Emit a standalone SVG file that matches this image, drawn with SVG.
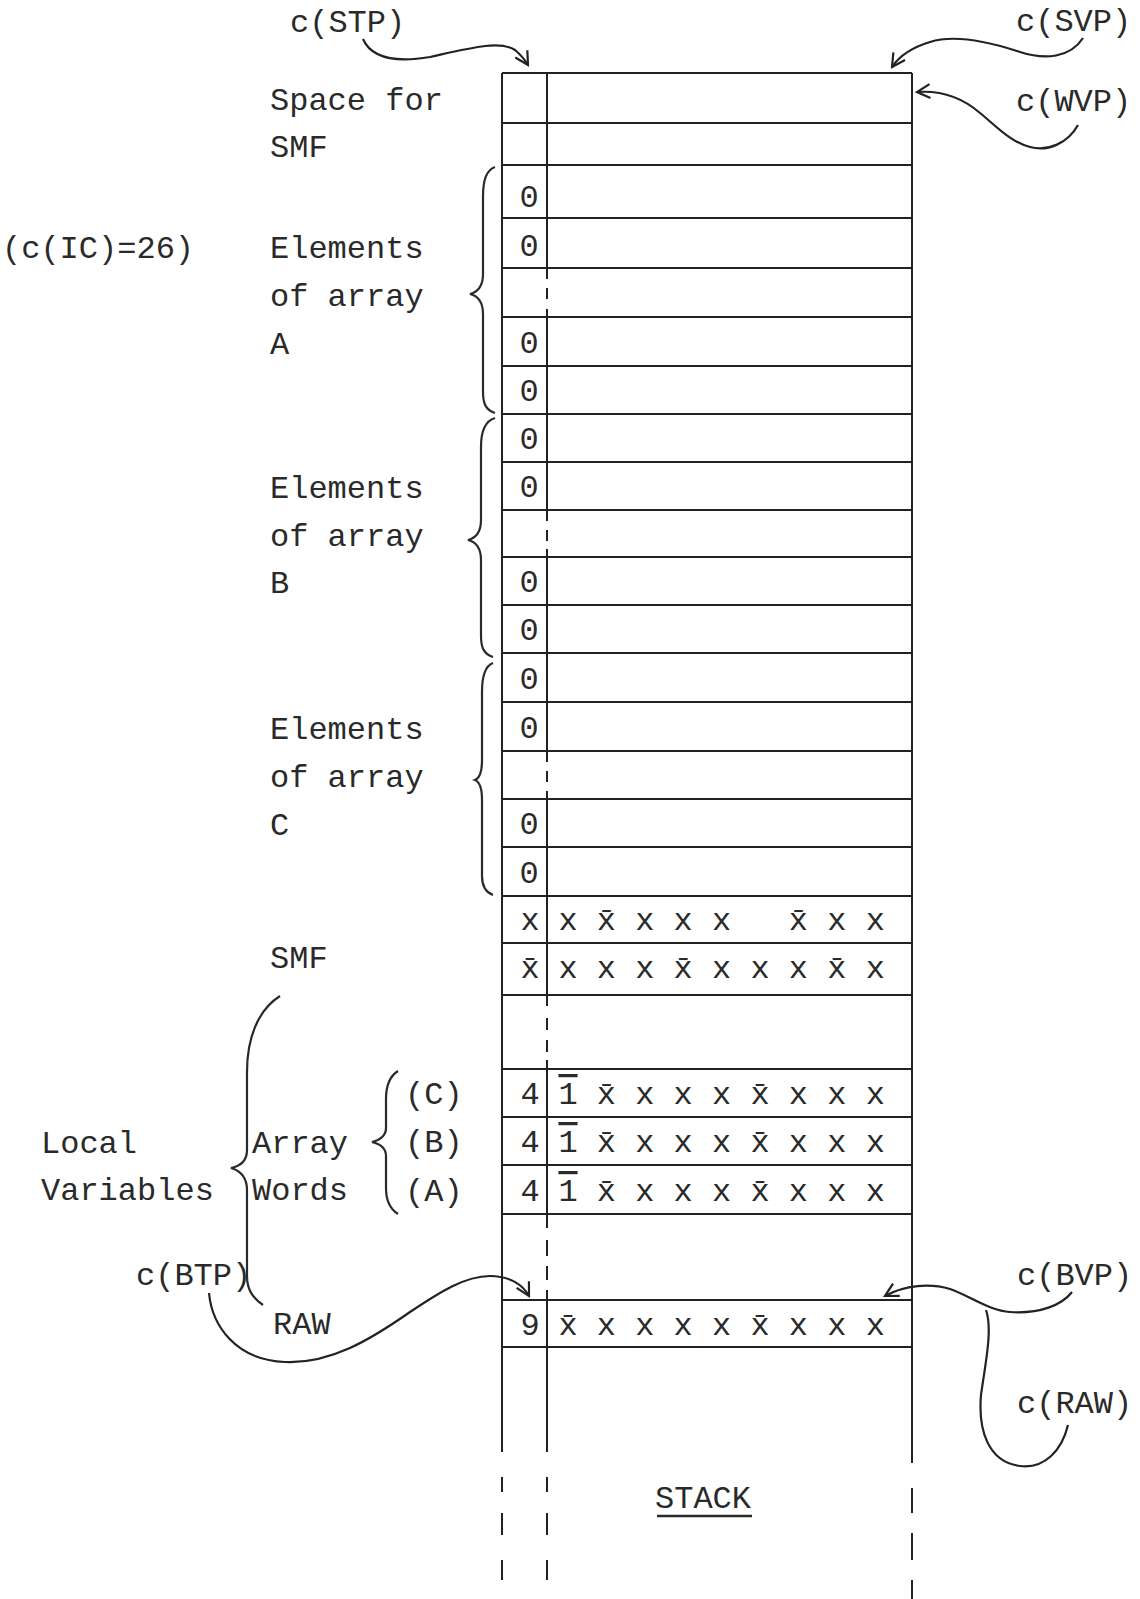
<svg xmlns="http://www.w3.org/2000/svg" width="1140" height="1599" viewBox="0 0 1140 1599">
<style>
.t{font-family:"Liberation Mono","Courier New",monospace;font-size:32px;fill:#2a2a2a}
.o{text-decoration:overline}
.m{text-anchor:middle}
.ln{stroke:#222;stroke-width:2;fill:none}
.br{stroke:#2a2a2a;stroke-width:2.2;fill:none}
.cn{stroke:#222;stroke-width:2.2;fill:none}
</style>
<defs>
<marker id="ah" viewBox="0 0 16 16" refX="14" refY="8" markerWidth="16" markerHeight="16" markerUnits="userSpaceOnUse" orient="auto">
<path d="M1,1 L14,8 L1,15" fill="none" stroke="#222" stroke-width="2.2"/>
</marker>
</defs>
<rect width="1140" height="1599" fill="#fff"/>

<g id="stack" class="ln">
<path d="M502,73V1452M502,1477V1492M502,1513V1535M502,1560V1580"/>
<path d="M547,73V279M547,288V299M547,309V521M547,530V541M547,549V762M547,771V782M547,791V1006M547,1018V1030M547,1040V1052M547,1060V1228M547,1240V1256M547,1266V1280M547,1290V1452M547,1477V1492M547,1513V1535M547,1560V1580"/>
<path d="M912,73V1463M912,1488V1513M912,1533V1560M912,1580V1599"/>
<path d="M502,73H912M502,123H912M502,165H912M502,218H912M502,268H912M502,317H912M502,366H912M502,414H912M502,462H912M502,510H912M502,557H912M502,605H912M502,653H912M502,702H912M502,751H912M502,799H912M502,847H912M502,896H912M502,943H912M502,995H912M502,1069H912M502,1117H912M502,1165H912M502,1214H912M502,1300H912M502,1347H912"/>
</g>

<g id="cells" class="t">
<text class="m" x="529" y="207">0</text>
<text class="m" x="529" y="256">0</text>
<text class="m" x="529" y="353">0</text>
<text class="m" x="529" y="401">0</text>
<text class="m" x="529" y="449">0</text>
<text class="m" x="529" y="497">0</text>
<text class="m" x="529" y="592">0</text>
<text class="m" x="529" y="640">0</text>
<text class="m" x="529" y="689">0</text>
<text class="m" x="529" y="738">0</text>
<text class="m" x="529" y="834">0</text>
<text class="m" x="529" y="883">0</text>
<text class="m" x="530" y="930">x</text>
<text class="m" x="530" y="978">x&#x304;</text>
<text class="m" x="530" y="1104">4</text>
<text class="m" x="530" y="1152">4</text>
<text class="m" x="530" y="1201">4</text>
<text class="m" x="530" y="1335">9</text>
<text x="558.4" y="930" xml:space="preserve">x x&#x304; x x x   x&#x304; x x</text>
<text x="558.4" y="978">x x x x&#x304; x x x x&#x304; x</text>
<text x="558.4" y="1104"><tspan class="o">1</tspan> x&#x304; x x x x&#x304; x x x</text>
<text x="558.4" y="1152"><tspan class="o">1</tspan> x&#x304; x x x x&#x304; x x x</text>
<text x="558.4" y="1201"><tspan class="o">1</tspan> x&#x304; x x x x&#x304; x x x</text>
<text x="558.4" y="1335">x&#x304; x x x x x&#x304; x x x</text>
</g>

<g id="labels" class="t">
<text x="290" y="32">c(STP)</text>
<text x="1016" y="31">c(SVP)</text>
<text x="1016" y="111">c(WVP)</text>
<text x="270" y="110">Space for</text>
<text x="270" y="157">SMF</text>
<text x="2" y="258">(c(IC)=26)</text>
<text x="270" y="258">Elements</text>
<text x="270" y="306">of array</text>
<text x="270" y="354">A</text>
<text x="270" y="498">Elements</text>
<text x="270" y="546">of array</text>
<text x="270" y="593">B</text>
<text x="270" y="739">Elements</text>
<text x="270" y="787">of array</text>
<text x="270" y="835">C</text>
<text x="270" y="968">SMF</text>
<text x="405" y="1104">(C)</text>
<text x="405" y="1152">(B)</text>
<text x="405" y="1201">(A)</text>
<text x="252" y="1153">Array</text>
<text x="252" y="1200">Words</text>
<text x="41" y="1153">Local</text>
<text x="41" y="1200">Variables</text>
<text x="136" y="1285">c(BTP)</text>
<text x="273" y="1334">RAW</text>
<text x="1017" y="1285">c(BVP)</text>
<text x="1017" y="1413">c(RAW)</text>
<text x="655" y="1508">STACK</text>
<line x1="657" y1="1516" x2="752" y2="1516" stroke="#2a2a2a" stroke-width="2.5"/>
</g>

<g id="braces" class="br">
<path d="M495,167C486,170 483,180 483,196L483,274C483,286 478,292 470,294C478,296 483,302 483,314L483,392C483,404 486,410 495,413"/>
<path d="M495,418C485,421 481,431 481,447L481,520C481,532 476,538 468,540C476,542 481,548 481,560L481,636C481,648 484,654 493,657"/>
<path d="M493,663C485,666 482,676 482,692L482,760C482,772 480,778 475,780C480,782 482,788 482,800L482,876C482,886 485,892 493,895"/>
<path d="M398,1071C390,1076 386,1086 386,1099L386,1128C386,1136 380,1140 372,1142C380,1144 386,1148 386,1156L386,1188C386,1201 390,1209 398,1214"/>
<path d="M280,996C258,1010 247,1038 247,1072L247,1150C247,1161 241,1166 231,1168C241,1171 247,1177 247,1190L247,1276C247,1290 253,1298 263,1305"/>
</g>

<g id="connectors" class="cn">
<path marker-end="url(#ah)" d="M363,39C372,60 400,62 430,57C470,48 500,40 515,50C521,55 525,60 528,65"/>
<path marker-end="url(#ah)" d="M1083,38C1070,58 1045,60 1020,52C990,42 955,34 930,42C910,48 898,58 892,67"/>
<path marker-end="url(#ah)" d="M1078,125C1068,143 1048,152 1030,147C1010,142 995,125 980,113C965,100 945,90 917,92"/>
<path marker-end="url(#ah)" d="M209,1293C212,1325 235,1360 285,1362C330,1364 370,1340 410,1312C440,1292 465,1276 490,1276C510,1276 523,1285 529,1296"/>
<path marker-end="url(#ah)" d="M1072,1292C1062,1305 1040,1314 1010,1312C990,1311 970,1296 950,1289C930,1283 905,1285 885,1296"/>
<path d="M986,1310C993,1330 985,1365 981,1395C978,1430 988,1462 1020,1466C1045,1469 1062,1450 1068,1425"/>
</g>
</svg>
